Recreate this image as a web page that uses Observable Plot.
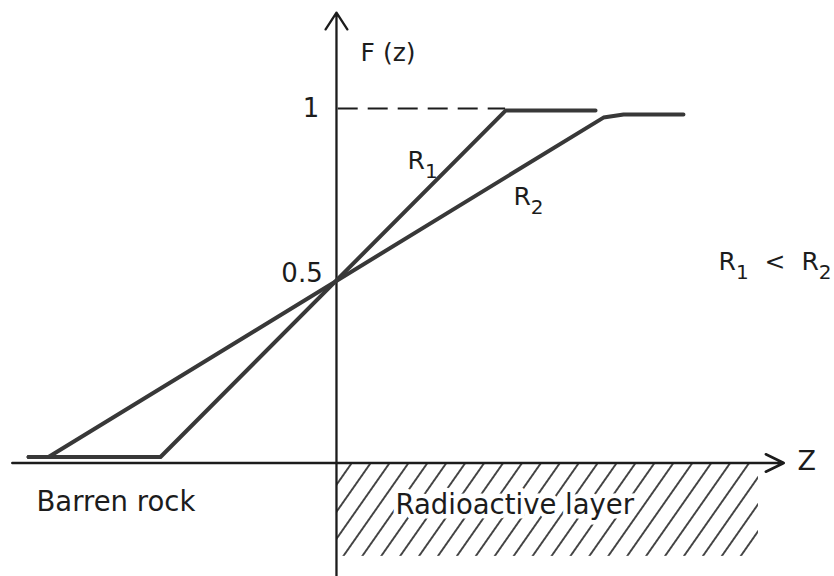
<!DOCTYPE html>
<html>
<head>
<meta charset="utf-8">
<script src="https://cdn.jsdelivr.net/npm/d3@7"></script>
<script src="https://cdn.jsdelivr.net/npm/@observablehq/plot@0.6"></script>
<style>
  body { margin: 0; background: #fff; }
  #chart svg { display: block; }
</style>
</head>
<body>
<div id="chart"></div>
<script>
// Fraction F(z) seen at distance z from the edge of the radioactive layer,
// for two resolutions R1 < R2 (z in units of the R1 half-width).
const r1Z = [-1.79, -1.023, 0.983, 1.506];
const r1F = [0, 0, 0.994, 0.994];
const r2Z = [-1.79, -1.674, 1.552, 1.669, 2.017];
const r2F = [0, 0, 0.974, 0.983, 0.983];

// Values marked on the F axis
const tickValues = [1, 0.5];
const tickLabels = ["1", "0.5"];

// Extent of the two axes and of the radioactive layer
const zAxisExtent = [-1.884, 2.6];
const fAxisExtent = [-0.343, 1.275];
const layerExtent = {z: [0, 2.453], f: [0, -0.268]};

// Text annotations
const curveNames = ["R\u2081", "R\u2082"];
const regionNames = ["Barren rock", "Radioactive layer"];

const r1 = r1Z.map((z, i) => ({z, f: r1F[i]}));
const r2 = r2Z.map((z, i) => ({z, f: r2F[i]}));

const ink = "#1c1c1c";
const curveInk = "#383838";

const chart = Plot.plot({
  width: 834,
  height: 576,
  margin: 0,
  x: {domain: [-1.953, 2.895], axis: null},
  y: {domain: [-0.343, 1.31], axis: null},
  style: {fontFamily: "DejaVu Sans", background: "#fff", color: ink},
  marks: [
    // hatched radioactive layer, just under the z axis
    Plot.rect([layerExtent], {
      x1: (d) => d.z[0], x2: (d) => d.z[1],
      y1: (d) => d.f[0], y2: (d) => d.f[1],
      fill: "url(#hatch)", dy: 6
    }),
    Plot.text([
      {name: regionNames[0], z: -1.744, f: -0.131},
      {name: regionNames[1], z: 0.343, f: -0.138}
    ], {
      x: "z", y: "f", text: "name", textAnchor: "start",
      fontSize: 27.5, fill: ink, stroke: "#fff", strokeWidth: 9
    }),
    // axes
    Plot.arrow([{x1: zAxisExtent[0], x2: zAxisExtent[1]}], {
      x1: "x1", x2: "x2", y1: 0, y2: 0, dy: 6,
      stroke: ink, strokeWidth: 2.6, headLength: 11.5, headAngle: 52
    }),
    Plot.arrow([{y1: fAxisExtent[0], y2: fAxisExtent[1]}], {
      x1: 0, x2: 0, y1: "y1", y2: "y2",
      stroke: ink, strokeWidth: 2.3, headLength: 13, headAngle: 66
    }),
    // F = 1 reference line
    Plot.ruleY([tickValues[0]], {
      x1: 0.01, x2: r1Z[2], stroke: ink, strokeWidth: 2,
      strokeDasharray: "20,10"
    }),
    // curves
    Plot.line(r1, {
      x: "z", y: "f", stroke: curveInk, strokeWidth: 4,
      strokeLinecap: "round", strokeLinejoin: "round"
    }),
    Plot.line(r2, {
      x: "z", y: "f", stroke: curveInk, strokeWidth: 4,
      strokeLinecap: "round", strokeLinejoin: "round"
    }),
    // F axis labels
    Plot.text([tickLabels[0]], {
      x: -0.1, y: tickValues[0], text: (d) => d, textAnchor: "end",
      fontSize: 26, fill: ink
    }),
    Plot.text([tickLabels[1]], {
      x: -0.08, y: tickValues[1], dy: -9, text: (d) => d, textAnchor: "end",
      fontSize: 26, fill: ink
    }),
    Plot.text(["F (z)"], {
      x: 0.14, y: 1.16, text: (d) => d, textAnchor: "start", fontSize: 25, fill: ink
    }),
    Plot.text([
      {name: curveNames[0], z: 0.413, f: 0.848},
      {name: curveNames[1], z: 1.029, f: 0.745}
    ], {
      x: "z", y: "f", text: "name", textAnchor: "start", fontSize: 25, fill: ink
    }),
    Plot.text([`${curveNames[0]}  <  ${curveNames[1]}`], {
      x: 2.221, y: 0.56, text: (d) => d, textAnchor: "start", fontSize: 25, fill: ink
    }),
    Plot.text(["Z"], {
      x: 2.68, y: -0.013, text: (d) => d, textAnchor: "start", fontSize: 27, fill: ink
    })
  ]
});

// diagonal hatching used by the radioactive layer
const defs = d3.select(chart).insert("defs", ":first-child");
const pattern = defs.append("pattern")
  .attr("id", "hatch")
  .attr("patternUnits", "userSpaceOnUse")
  .attr("width", 15.5)
  .attr("height", 20)
  .attr("patternTransform", "rotate(35)");
pattern.append("line")
  .attr("x1", 7.75).attr("x2", 7.75)
  .attr("y1", 0).attr("y2", 20)
  .attr("stroke", ink)
  .attr("stroke-width", 1.6);

// set subscript digits (₁, ₂) as lowered, slightly smaller text
const subDigits = {"\u2081": "1", "\u2082": "2"};
d3.select(chart).selectAll("text").each(function () {
  const s = this.textContent;
  if (!/[\u2081\u2082]/.test(s)) return;
  const el = d3.select(this).text(null);
  let lowered = false;
  for (const part of s.split(/([\u2081\u2082])/)) {
    if (!part) continue;
    if (subDigits[part]) {
      el.append("tspan").attr("font-size", "0.8em").attr("dy", "0.45em").text(subDigits[part]);
      lowered = true;
    } else {
      const t = el.append("tspan").text(part);
      if (lowered) t.attr("dy", "-0.36em");
      lowered = false;
    }
  }
});

document.getElementById("chart").append(chart);
</script>
</body>
</html>
